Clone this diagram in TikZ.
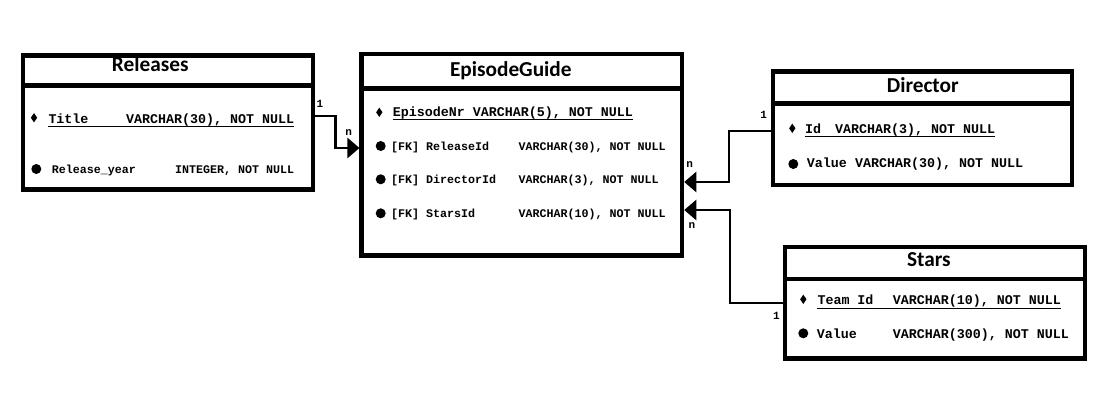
\documentclass[tikz,border=0pt]{standalone}
\usepackage{fontspec}
\setmainfont{Liberation Serif}
\setsansfont{Carlito}
\setmonofont{Liberation Mono}
\usetikzlibrary{arrows.meta,shapes.geometric}
\begin{document}
\begin{tikzpicture}[x=1pt,y=-1pt,
  box/.style={draw, line width=4.5pt, rectangle, inner sep=0pt},
  sep/.style={line width=4.5pt},
  ttl/.style={font=\sffamily\bfseries\fontsize{21.3}{25}\selectfont, anchor=base, inner sep=0pt},
  fb/.style={font=\ttfamily\bfseries\fontsize{13.33}{16}\selectfont, anchor=base west, inner sep=0pt},
  fr/.style={font=\ttfamily\bfseries\fontsize{11.67}{14}\selectfont, anchor=base west, inner sep=0pt},
  dia/.style={diamond, fill=black, inner sep=0pt, minimum width=6.5pt, minimum height=9.5pt},
  dot/.style={circle, fill=black, inner sep=0pt, minimum size=10pt},
  conn/.style={line width=2.3pt},
  arr/.style={conn, -{Triangle[length=12pt,width=20pt]}},
  card/.style={font=\ttfamily\bfseries\fontsize{11}{13}\selectfont, inner sep=0pt},
  ul/.style={line width=1.2pt}
]
\fill[white] (0,0) rectangle (1112,406);
\useasboundingbox (0,0) rectangle (1112,406);

% boxes
\node[box, minimum width=290pt, minimum height=134.2pt] (rel) at (168,122.6) {};
\node[box, minimum width=320.3pt, minimum height=201.5pt] (eg) at (521.85,154.75) {};
\node[box, minimum width=299.2pt, minimum height=113.3pt] (dir) at (922.4,128.35) {};
\node[box, minimum width=300pt, minimum height=111.5pt] (sta) at (935,302.55) {};

% header separators
\draw[sep] (rel.west |- 0,85.3) -- (rel.east |- 0,85.3);
\draw[sep] (eg.west |- 0,88.7) -- (eg.east |- 0,88.7);
\draw[sep] (dir.west |- 0,103.7) -- (dir.east |- 0,103.7);
\draw[sep] (sta.west |- 0,278.8) -- (sta.east |- 0,278.8);

% titles
\node[ttl] (relT) at (150.2,71.7) {Releases};
\node[ttl] (egT) at (510.8,76.7) {EpisodeGuide};
\node[ttl] (dirT) at (922.8,92.3) {Director};
\node[ttl] (staT) at (928.8,266.7) {Stars};

% Releases rows
\node[dia] (r1d) at (34,117.7) {};
\node[fb] (r1n) at (48.3,123.3) {Title};
\node[fb] (r1t) at (126,123.3) {VARCHAR(30), NOT NULL};
\draw[ul] (r1n.west |- 0,126.3) -- (r1t.east |- 0,126.3);
\node[dot] (r2d) at (36.3,169) {};
\node[fr] (r2n) at (51.7,173.5) {Release\_year};
\node[fr] (r2t) at (175,173.5) {INTEGER, NOT NULL};

% EpisodeGuide rows
\node[dia] (e1d) at (379.3,112.3) {};
\node[fb] (e1n) at (392.7,116.7) {EpisodeNr VARCHAR(5), NOT NULL};
\draw[ul] (e1n.west |- 0,119.3) -- (e1n.east |- 0,119.3);
\node[dot] (e2d) at (380.7,146) {};
\node[fr] (e2n) at (391,150.5) {[FK] ReleaseId};
\node[fr] (e2t) at (518.3,150.5) {VARCHAR(30), NOT NULL};
\node[dot] (e3d) at (380.7,179.3) {};
\node[fr] (e3n) at (391,184) {[FK] DirectorId};
\node[fr] (e3t) at (518.3,184) {VARCHAR(3), NOT NULL};
\node[dot] (e4d) at (380.7,213.3) {};
\node[fr] (e4n) at (391,217.5) {[FK] StarsId};
\node[fr] (e4t) at (518.3,217.5) {VARCHAR(10), NOT NULL};

% Director rows
\node[dia] (d1d) at (792.3,128.3) {};
\node[fb] (d1n) at (805,133.3) {Id};
\node[fb] (d1t) at (835,133.3) {VARCHAR(3), NOT NULL};
\draw[ul] (d1n.west |- 0,136.3) -- (d1t.east |- 0,136.3);
\node[dot] (d2d) at (793.3,164) {};
\node[fb] (d2n) at (806.7,168) {Value};
\node[fb] (d2t) at (855,168) {VARCHAR(30), NOT NULL};

% Stars rows
\node[dia] (s1d) at (803.3,299.3) {};
\node[fb] (s1n) at (817.3,305) {Team Id};
\node[fb] (s1t) at (892.7,305) {VARCHAR(10), NOT NULL};
\draw[ul] (s1n.west |- 0,308.3) -- (s1t.east |- 0,308.3);
\node[dot] (s2d) at (803.3,333.3) {};
\node[fb] (s2n) at (816.7,338) {Value};
\node[fb] (s2t) at (892.7,338) {VARCHAR(300), NOT NULL};

% connectors
\draw[arr] (rel.east |- 0,115.7) -| (335.5,148) -- (eg.west |- 0,148);
\draw[arr] (dir.west |- 0,131) -| (729,182) -- (eg.east |- 0,182);
\draw[arr] (sta.west |- 0,303) -| (730,210) -- (eg.east |- 0,210);

% cardinalities
\node[card] (c1) at (320,103.7) {1};
\node[card] (c2) at (348.7,132.5) {n};
\node[card] (c3) at (763.7,115) {1};
\node[card] (c4) at (689.7,165) {n};
\node[card] (c5) at (692,225.5) {n};
\node[card] (c6) at (776.3,315.5) {1};
\end{tikzpicture}
\end{document}
